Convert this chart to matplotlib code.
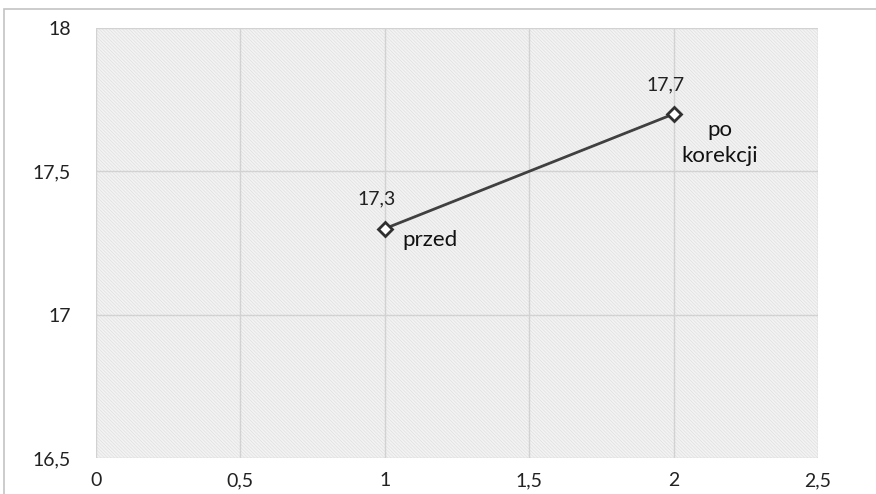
import matplotlib.pyplot as plt
from matplotlib.patches import Rectangle
from matplotlib.ticker import FuncFormatter

plt.rcParams['font.family'] = ['Lato', 'DejaVu Sans']
plt.rcParams['hatch.linewidth'] = 0.5

# pomiar przed i po korekcji
x_vals = [1, 2]
y_vals = [17.3, 17.7]
value_labels = ["17,3", "17,7"]
point_names = ["przed", "po\nkorekcji"]

fig = plt.figure(figsize=(8.76, 4.94), dpi=100)

# ramka wykresu
fig.patches.append(Rectangle((4 / 876, -0.1), 1.0, (494 - 9) / 494 + 0.1,
                             transform=fig.transFigure, fill=False,
                             edgecolor='#c4c4c4', linewidth=1.2))

ax = fig.add_axes([96 / 876, 36 / 494, 722 / 876, 430 / 494])
ax.set_xlim(0, 2.5)
ax.set_ylim(16.5, 18)

# tlo z kreskowaniem
ax.add_patch(Rectangle((0, 0), 1, 1, transform=ax.transAxes,
                       facecolor='#f3f3f3', edgecolor='#e0e0e0',
                       hatch='\\' * 10, linewidth=0, zorder=0))
ax.set_facecolor('none')

ax.set_xticks([0, 0.5, 1, 1.5, 2, 2.5])
ax.set_yticks([16.5, 17, 17.5, 18])
fmt = FuncFormatter(lambda v, p: ('%g' % v).replace('.', ','))
ax.xaxis.set_major_formatter(fmt)
ax.yaxis.set_major_formatter(fmt)
ax.grid(True, color='#d2d2d2', linewidth=1.0)
ax.set_axisbelow(True)
for s in ax.spines.values():
    s.set_visible(False)
ax.tick_params(length=0, labelsize=14, colors='#222222')
ax.tick_params(axis='x', pad=10)
ax.tick_params(axis='y', pad=18)

ax.plot(x_vals, y_vals, color='#404040', linewidth=2, marker='D',
        markersize=7, markerfacecolor='white', markeredgecolor='#303030',
        markeredgewidth=2, zorder=3)

for xv, yv, lab in zip(x_vals, y_vals, value_labels):
    ax.annotate(lab, (xv, yv), xytext=(-6, 15), textcoords='offset points',
                ha='center', va='bottom', fontsize=14, color='#222222')

ax.annotate(point_names[0], (x_vals[0], y_vals[0]), xytext=(13, -8),
            textcoords='offset points', ha='left', va='center',
            fontsize=16, color='#111111')
ax.annotate(point_names[1], (x_vals[1], y_vals[1]), xytext=(33, -21),
            textcoords='offset points', ha='center', va='center',
            fontsize=16, color='#111111', linespacing=1.4)

fig.savefig('out.png', dpi=100)
